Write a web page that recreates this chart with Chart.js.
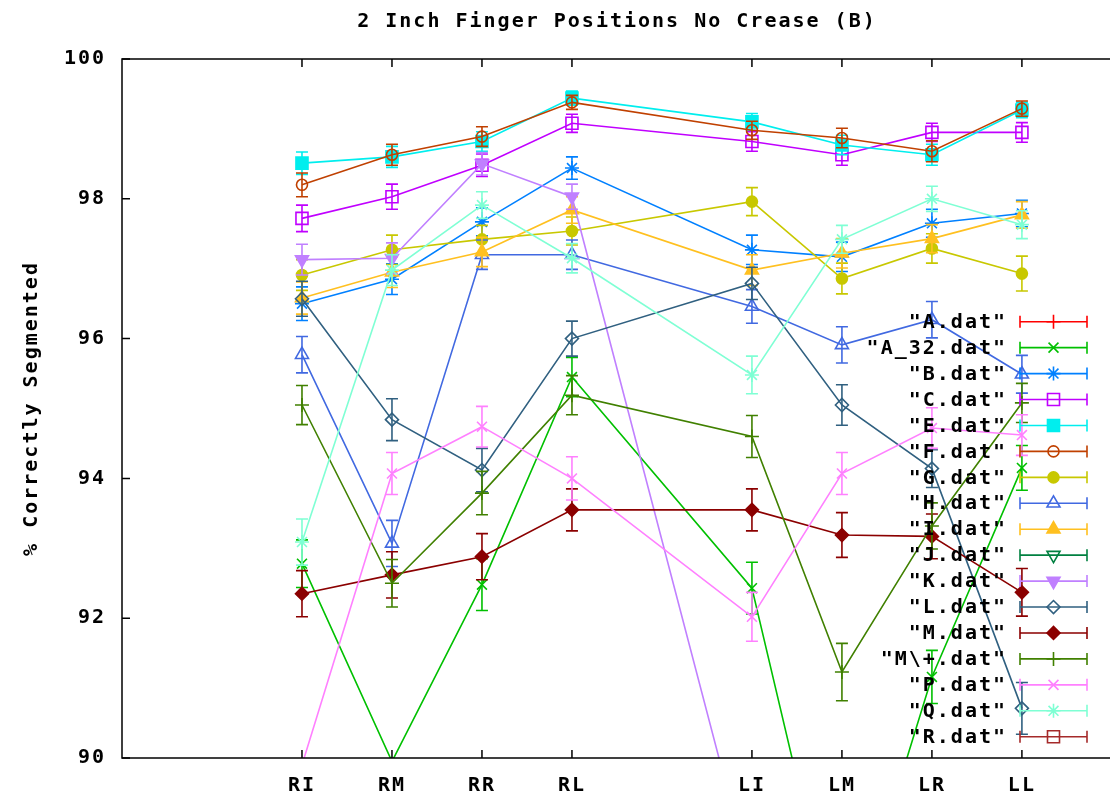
<!DOCTYPE html>
<html><head><meta charset="utf-8">
<script src="https://cdn.jsdelivr.net/npm/chart.js@4/dist/chart.umd.min.js"></script>
<style>html,body{margin:0;padding:0;background:#fff;overflow:hidden;}canvas{display:block;}</style>
</head><body>
<canvas id="c" width="1122" height="804" style="width:1122px;height:804px"></canvas>
<script>
// ---- data ----
const categories = ['RI','RM','RR','RL','LI','LM','LR','LL'];
const xPositions = [1, 2, 3, 4, 6, 7, 8, 9];
const yTicks = [90, 92, 94, 96, 98, 100];
const chartTitle = '2 Inch Finger Positions No Crease (B)';
const yTitle = '% Correctly Segmented';

const A      = [null, null, null, null, null, null, null, null];
const A_32   = [92.78, 89.95, 92.48, 95.45, 92.43, 86.98, 91.16, 94.15];
const B      = [96.50, 96.85, 97.67, 98.44, 97.27, 97.17, 97.65, 97.79];
const C      = [97.72, 98.03, 98.48, 99.08, 98.82, 98.63, 98.95, 98.95];
const E      = [98.51, 98.60, 98.82, 99.44, 99.10, 98.77, 98.63, 99.27];
const F      = [98.20, 98.63, 98.89, 99.38, 98.98, 98.87, 98.68, 99.29];
const G      = [96.91, 97.27, 97.42, 97.54, 97.96, 96.86, 97.29, 96.93];
const H      = [95.77, 93.07, 97.20, 97.20, 96.46, 95.91, 96.27, 95.49];
const I      = [96.58, 96.95, 97.24, 97.84, 96.98, 97.22, 97.43, 97.77];
const J      = [null, null, null, null, null, null, null, null];
const K      = [97.13, 97.15, 98.50, 98.03, 88.20, null, null, null];
const L      = [96.57, 94.84, 94.12, 96.00, 96.79, 95.05, 94.14, 90.71];
const M      = [92.35, 92.62, 92.88, 93.55, 93.55, 93.19, 93.17, 92.37];
const Mplus  = [95.05, 92.50, 93.79, 95.19, 94.60, 91.23, 93.32, 95.08];
const P      = [89.90, 94.07, 94.74, 94.00, 92.02, 94.07, 94.72, 94.62];
const Q      = [93.09, 96.98, 97.91, 97.15, 95.48, 97.42, 98.00, 97.63];
const R      = [null, null, null, null, null, null, null, null];

const A_err     = [null, null, null, null, null, null, null, null];
const A_32_err  = [0.34, 0.39, 0.37, 0.28, 0.37, 0.40, 0.38, 0.32];
const B_err     = [0.24, 0.22, 0.20, 0.16, 0.21, 0.21, 0.20, 0.19];
const C_err     = [0.19, 0.18, 0.16, 0.13, 0.14, 0.15, 0.13, 0.14];
const E_err     = [0.16, 0.15, 0.14, 0.10, 0.12, 0.14, 0.15, 0.11];
const F_err     = [0.17, 0.15, 0.14, 0.10, 0.13, 0.14, 0.15, 0.11];
const G_err     = [0.22, 0.21, 0.20, 0.20, 0.20, 0.22, 0.21, 0.25];
const H_err     = [0.26, 0.33, 0.21, 0.21, 0.24, 0.26, 0.26, 0.27];
const I_err     = [0.23, 0.22, 0.21, 0.19, 0.22, 0.21, 0.20, 0.19];
const J_err     = [null, null, null, null, null, null, null, null];
const K_err     = [0.22, 0.22, 0.16, 0.18, 0.40, null, null, null];
const L_err     = [0.25, 0.30, 0.31, 0.25, 0.23, 0.29, 0.27, 0.37];
const M_err     = [0.33, 0.33, 0.33, 0.30, 0.30, 0.32, 0.32, 0.34];
const Mplus_err = [0.28, 0.34, 0.31, 0.28, 0.30, 0.41, 0.33, 0.28];
const P_err     = [0.39, 0.30, 0.29, 0.31, 0.35, 0.30, 0.29, 0.29];
const Q_err     = [0.33, 0.22, 0.19, 0.21, 0.27, 0.20, 0.18, 0.20];
const R_err     = [null, null, null, null, null, null, null, null];

const seriesLabels = ['"A.dat"','"A_32.dat"','"B.dat"','"C.dat"','"E.dat"','"F.dat"','"G.dat"','"H.dat"','"I.dat"','"J.dat"','"K.dat"','"L.dat"','"M.dat"','"M\\+.dat"','"P.dat"','"Q.dat"','"R.dat"'];
const seriesValues = [A, A_32, B, C, E, F, G, H, I, J, K, L, M, Mplus, P, Q, R];
const seriesErrors = [A_err, A_32_err, B_err, C_err, E_err, F_err, G_err, H_err, I_err, J_err, K_err, L_err, M_err, Mplus_err, P_err, Q_err, R_err];

// ---- styles ----
const colors = ['#ff0000','#00c000','#0080ff','#c000ff','#00eeee','#c04000','#c8c800','#4169e1','#ffc020','#008040','#c080ff','#306080','#8b0000','#408000','#ff80ff','#7fffd4','#a52a2a'];
const markers = [
  {s:'cross', r:7, f:false, rot:0},
  {s:'crossRot', r:7, f:false, rot:0},
  {s:'star', r:7, f:false, rot:0},
  {s:'rect', r:8.5, f:false, rot:0},
  {s:'rect', r:8.5, f:true, rot:0},
  {s:'circle', r:5.5, f:false, rot:0},
  {s:'circle', r:5.5, f:true, rot:0},
  {s:'triangle', r:7.5, f:false, rot:0},
  {s:'triangle', r:7.5, f:true, rot:0},
  {s:'triangle', r:7.5, f:false, rot:180},
  {s:'triangle', r:7.5, f:true, rot:180},
  {s:'rectRot', r:6.5, f:false, rot:0},
  {s:'rectRot', r:6.5, f:true, rot:0},
  {s:'cross', r:7, f:false, rot:0},
  {s:'crossRot', r:7, f:false, rot:0},
  {s:'star', r:7, f:false, rot:0},
  {s:'rect', r:8.5, f:false, rot:0}
];
const FONT = {family: "'DejaVu Sans Mono', monospace", weight: 'bold', size: 20};
const FONT_CSS = "bold 20px 'DejaVu Sans Mono', monospace";

const inRange = v => v != null && v >= 90 && v <= 100;

const datasets = seriesValues.map((vals, i) => ({
  label: seriesLabels[i],
  data: xPositions.map((x, k) => ({x: x, y: vals[k]})),
  errors: seriesErrors[i],
  borderColor: colors[i],
  backgroundColor: markers[i].f ? colors[i] : 'rgba(0,0,0,0)',
  pointBackgroundColor: markers[i].f ? colors[i] : 'rgba(0,0,0,0)',
  pointBorderColor: colors[i],
  pointStyle: markers[i].s,
  pointRotation: markers[i].rot,
  pointRadius: ctx => (ctx.raw && inRange(ctx.raw.y)) ? markers[i].r : 0,
  pointHoverRadius: 0,
  pointBorderWidth: 1.6,
  borderWidth: 1.6,
  tension: 0,
  fill: false,
  spanGaps: false,
  clip: 0,
  order: seriesValues.length - i
}));

const spacingPlugin = {
  id: 'spacing',
  beforeDraw(chart) { try { chart.ctx.letterSpacing = '2px'; } catch (e) {} }
};

const errorBarPlugin = {
  id: 'errorBars',
  afterDatasetDraw(chart, args) {
    const ds = chart.data.datasets[args.index];
    const ys = chart.scales.y, xs = chart.scales.x;
    const ca = chart.chartArea;
    const ctx = chart.ctx;
    ctx.save();
    ctx.beginPath();
    ctx.rect(ca.left, ca.top, ca.right - ca.left, ca.bottom - ca.top);
    ctx.clip();
    ctx.strokeStyle = ds.borderColor;
    ctx.lineWidth = 1.6;
    ds.data.forEach((p, k) => {
      const e = ds.errors[k];
      if (!inRange(p.y) || e == null) return;
      const x = xs.getPixelForValue(p.x);
      const y1 = ys.getPixelForValue(p.y - e);
      const y2 = ys.getPixelForValue(p.y + e);
      ctx.beginPath();
      ctx.moveTo(x, y1); ctx.lineTo(x, y2);
      ctx.moveTo(x - 6, y1); ctx.lineTo(x + 6, y1);
      ctx.moveTo(x - 6, y2); ctx.lineTo(x + 6, y2);
      ctx.stroke();
    });
    ctx.restore();
  }
};

const framePlugin = {
  id: 'frame',
  afterDatasetsDraw(chart) {
    const ctx = chart.ctx, ca = chart.chartArea;
    const xs = chart.scales.x, ys = chart.scales.y;
    ctx.save();
    ctx.strokeStyle = '#000';
    ctx.lineWidth = 1.5;
    ctx.strokeRect(ca.left, ca.top, ca.right - ca.left, ca.bottom - ca.top);
    ctx.beginPath();
    yTicks.forEach(v => {
      const y = ys.getPixelForValue(v);
      ctx.moveTo(ca.left, y); ctx.lineTo(ca.left + 8, y);
    });
    xPositions.forEach(v => {
      const x = xs.getPixelForValue(v);
      ctx.moveTo(x, ca.bottom); ctx.lineTo(x, ca.bottom - 8);
      ctx.moveTo(x, ca.top); ctx.lineTo(x, ca.top + 8);
    });
    ctx.stroke();
    ctx.restore();
  }
};

const legendPlugin = {
  id: 'gpLegend',
  afterDraw(chart) {
    const ctx = chart.ctx;
    const textRight = 1005, lineL = 1020, lineR = 1087, mid = 1053.5;
    const top = 321.7, step = 25.94;
    ctx.save();
    try { ctx.letterSpacing = '2px'; } catch (e) {}
    chart.data.datasets.forEach((ds, i) => {
      const y = top + step * i;
      ctx.font = FONT_CSS;
      ctx.fillStyle = '#000';
      ctx.textAlign = 'right';
      ctx.textBaseline = 'middle';
      ctx.fillText(ds.label, textRight + 2, y + 1);
      ctx.strokeStyle = ds.borderColor;
      ctx.lineWidth = 1.6;
      ctx.beginPath();
      ctx.moveTo(lineL, y); ctx.lineTo(lineR, y);
      ctx.moveTo(lineL, y - 6); ctx.lineTo(lineL, y + 6);
      ctx.moveTo(lineR, y - 6); ctx.lineTo(lineR, y + 6);
      ctx.stroke();
      const m = markers[i];
      ctx.fillStyle = m.f ? ds.borderColor : 'rgba(0,0,0,0)';
      if (Chart.helpers && Chart.helpers.drawPoint) {
        Chart.helpers.drawPoint(ctx, {pointStyle: m.s, rotation: m.rot, radius: m.r, borderWidth: 1.6}, mid, y);
      }
    });
    ctx.restore();
  }
};

new Chart(document.getElementById('c'), {
  type: 'line',
  data: { datasets: datasets },
  plugins: [spacingPlugin, errorBarPlugin, framePlugin, legendPlugin],
  options: {
    responsive: false,
    animation: false,
    devicePixelRatio: 1,
    events: [],
    layout: { padding: 0 },
    plugins: {
      legend: { display: false },
      tooltip: { enabled: false },
      title: {
        display: true, text: chartTitle, color: '#000', font: FONT,
        fullSize: false, padding: { top: 10, bottom: 25 }
      }
    },
    scales: {
      x: {
        type: 'linear', min: -1, max: 10, position: 'bottom',
        grid: { display: false, drawTicks: false },
        border: { display: false },
        afterBuildTicks: s => { s.ticks = xPositions.map(v => ({ value: v })); },
        afterFit: s => { s.height = 46; s.paddingLeft = 0; s.paddingRight = 0; },
        ticks: {
          autoSkip: false, maxRotation: 0, color: '#000', font: FONT, padding: 16,
          callback: v => { const k = xPositions.indexOf(v); return k >= 0 ? categories[k] : ''; }
        }
      },
      y: {
        type: 'linear', min: 90, max: 100,
        grid: { display: false, drawTicks: false },
        border: { display: false },
        afterBuildTicks: s => { s.ticks = yTicks.map(v => ({ value: v })); },
        afterFit: s => { s.width = 122; s.paddingTop = 0; s.paddingBottom = 0; },
        ticks: { color: '#000', font: FONT, padding: 16 },
        title: { display: true, text: yTitle, color: '#000', font: FONT, padding: { top: 20, bottom: 0 } }
      }
    }
  }
});
</script>
</body></html>
